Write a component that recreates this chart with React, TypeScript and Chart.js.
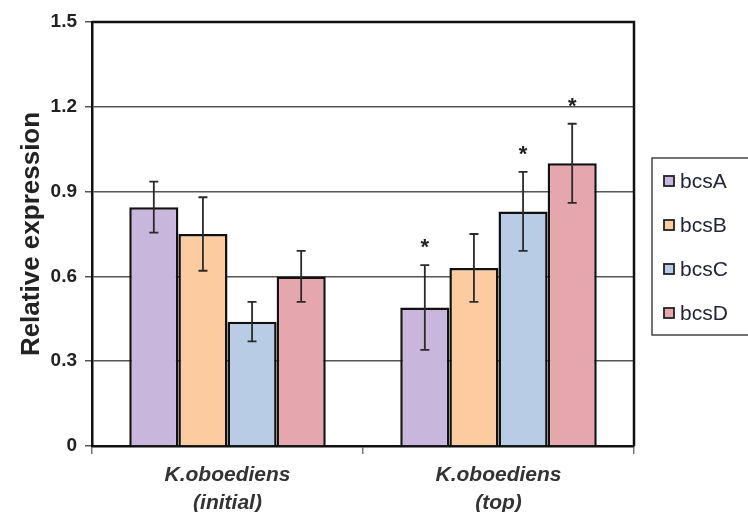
import React, { useEffect, useRef } from "react";
import { Chart, registerables } from "chart.js";

Chart.register(...registerables);

const categories = [["K.oboediens", "(initial)"], ["K.oboediens", "(top)"]];
const seriesNames = ["bcsA", "bcsB", "bcsC", "bcsD"];
const bcsA = [0.845, 0.49];
const bcsB = [0.75, 0.63];
const bcsC = [0.44, 0.83];
const bcsD = [0.6, 1.0];
const errA = [0.09, 0.15];
const errB = [0.13, 0.12];
const errC = [0.07, 0.14];
const errD = [0.09, 0.14];
const starA = [false, true];
const starB = [false, false];
const starC = [false, true];
const starD = [false, true];
const yTicks = [0, 0.3, 0.6, 0.9, 1.2, 1.5];
const fillColors = ["#c9b6dd", "#fccba0", "#b8cce6", "#e5a6ae"];

const seriesValues = [bcsA, bcsB, bcsC, bcsD];
const seriesErrors = [errA, errB, errC, errD];
const seriesStars = [starA, starB, starC, starD];

const FONT = "'Liberation Sans', Arial, Helvetica, sans-serif";

const extrasPlugin = {
  id: "extras",
  afterDatasetsDraw(chart: any) {
    const ctx = chart.ctx;
    const yScale = chart.scales.y;
    const area = chart.chartArea;
    ctx.save();
    chart.data.datasets.forEach((ds: any, di: number) => {
      const meta = chart.getDatasetMeta(di);
      meta.data.forEach((bar: any, i: number) => {
        const v = seriesValues[di][i];
        const e = seriesErrors[di][i];
        const x = bar.x;
        const yT = yScale.getPixelForValue(v + e);
        const yB = yScale.getPixelForValue(v - e);
        ctx.strokeStyle = "#2a2a2a";
        ctx.lineWidth = 1.8;
        ctx.beginPath();
        ctx.moveTo(x, yT);
        ctx.lineTo(x, yB);
        ctx.moveTo(x - 4.5, yT);
        ctx.lineTo(x + 4.5, yT);
        ctx.moveTo(x - 4.5, yB);
        ctx.lineTo(x + 4.5, yB);
        ctx.stroke();
        if (seriesStars[di][i]) {
          ctx.fillStyle = "#222";
          ctx.font = `bold 22px ${FONT}`;
          ctx.textAlign = "center";
          ctx.textBaseline = "middle";
          ctx.fillText("*", x, yT - 17);
        }
      });
    });
    ctx.strokeStyle = "#111";
    ctx.lineWidth = 2.5;
    ctx.beginPath();
    ctx.moveTo(area.left, area.top);
    ctx.lineTo(area.right, area.top);
    ctx.lineTo(area.right, area.bottom);
    ctx.stroke();
    ctx.restore();
  },
  afterDraw(chart: any) {
    const ctx = chart.ctx;
    ctx.save();
    const boxL = 652, boxT = 158, boxB = 335;
    ctx.strokeStyle = "#444";
    ctx.lineWidth = 1.5;
    ctx.beginPath();
    ctx.moveTo(760, boxT);
    ctx.lineTo(boxL, boxT);
    ctx.lineTo(boxL, boxB);
    ctx.lineTo(760, boxB);
    ctx.stroke();
    const centers = [181, 225, 269, 313];
    seriesNames.forEach((name, i) => {
      const cy = centers[i];
      ctx.fillStyle = fillColors[i];
      ctx.fillRect(664, cy - 5, 10, 10);
      ctx.strokeStyle = "#222";
      ctx.lineWidth = 1.8;
      ctx.strokeRect(664, cy - 5, 10, 10);
      ctx.fillStyle = "#24243a";
      ctx.font = `21px ${FONT}`;
      ctx.textAlign = "left";
      ctx.textBaseline = "middle";
      ctx.fillText(name, 680, cy + 1);
    });
    ctx.restore();
  },
};

export default function App() {
  const ref = useRef<HTMLCanvasElement>(null);
  useEffect(() => {
    document.body.style.margin = "0";
    const chart = new Chart(ref.current as HTMLCanvasElement, {
      type: "bar",
      data: {
        labels: categories,
        datasets: seriesNames.map((n, i) => ({
          label: n,
          data: seriesValues[i],
          backgroundColor: fillColors[i],
          borderColor: "#111",
          borderWidth: 2.5,
          categoryPercentage: 0.725,
          barPercentage: 1,
        })),
      },
      options: {
        animation: false,
        responsive: false,
        maintainAspectRatio: false,
        layout: { padding: { left: 14, right: 114, top: 22, bottom: 0 } },
        plugins: { legend: { display: false }, tooltip: { enabled: false } },
        scales: {
          x: {
            afterFit: (s: any) => {
              s.height = 66;
            },
            grid: {
              display: true,
              drawOnChartArea: false,
              drawTicks: true,
              tickLength: 8,
              color: "#777",
              lineWidth: 1.5,
            },
            border: { display: true, color: "#111", width: 2.5 },
            ticks: {
              color: "#333",
              padding: 8,
              font: { family: FONT, size: 21, weight: "bold", style: "italic", lineHeight: 1.3 },
            },
          },
          y: {
            min: 0,
            max: 1.5,
            afterFit: (s: any) => {
              s.width = 78;
            },
            afterBuildTicks: (s: any) => {
              s.ticks = yTicks.map((v) => ({ value: v }));
            },
            grid: { color: "#555", lineWidth: 1.5, tickLength: 7 },
            border: { display: true, color: "#111", width: 2.5 },
            ticks: {
              color: "#222",
              padding: 8,
              font: { family: FONT, size: 19, weight: "bold" },
              callback: (v: any) => (v === 0 ? "0" : Number(v).toFixed(1)),
            },
            title: {
              display: true,
              text: "Relative expression",
              color: "#222",
              padding: { top: 2, bottom: 2 },
              font: { family: FONT, size: 26, weight: "bold" },
            },
          },
        },
      },
      plugins: [extrasPlugin],
    });
    return () => chart.destroy();
  }, []);
  return (
    <div style={{ position: "fixed", left: 0, top: 0, width: 748, height: 512, background: "#fff" }}>
      <canvas ref={ref} width={748} height={512} style={{ width: 748, height: 512 }} />
    </div>
  );
}
